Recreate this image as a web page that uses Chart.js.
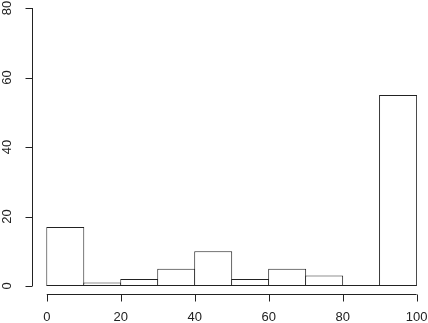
<!DOCTYPE html>
<html><head><meta charset="utf-8">
<script src="https://cdn.jsdelivr.net/npm/chart.js@4"></script>
<style>html,body{margin:0;padding:0;background:#fff}#wrap{width:428px;height:323px}</style>
</head><body><div id="wrap"><canvas id="c" width="428" height="323"></canvas></div>
<script>
const binStarts = [0, 10, 20, 30, 40, 50, 60, 70, 80, 90];
const binWidth = 10;
const counts = [17, 1, 2, 5, 10, 2, 5, 3, 0, 55];
const xTicks = [0, 20, 40, 60, 80, 100];
const yTicks = [0, 20, 40, 60, 80];

const ink = '#222';
const font = '13px "Liberation Sans", Arial, sans-serif';

const rAxes = {
  id: 'rAxes',
  afterDatasetsDraw(chart) {
    const ctx = chart.ctx, xs = chart.scales.x, ys = chart.scales.y;
    ctx.save();
    ctx.strokeStyle = ink; ctx.lineWidth = 1; ctx.fillStyle = ink; ctx.font = font;
    // baseline of the histogram
    const yb = Math.round(ys.getPixelForValue(0)) - 0.5;
    ctx.beginPath();
    ctx.moveTo(xs.getPixelForValue(binStarts[0]), yb);
    ctx.lineTo(xs.getPixelForValue(binStarts[binStarts.length - 1] + binWidth), yb);
    ctx.stroke();
    // x axis
    const xa = Math.round(ys.bottom) + 0.5;
    ctx.beginPath();
    ctx.moveTo(xs.getPixelForValue(xTicks[0]), xa);
    ctx.lineTo(xs.getPixelForValue(xTicks[xTicks.length - 1]), xa);
    xTicks.forEach(t => { const p = Math.round(xs.getPixelForValue(t)) + 0.5; ctx.moveTo(p, xa); ctx.lineTo(p, xa + 7); });
    ctx.stroke();
    ctx.textAlign = 'center'; ctx.textBaseline = 'middle';
    xTicks.forEach(t => ctx.fillText(String(t), xs.getPixelForValue(t), xa + 23));
    // y axis
    const ya = Math.round(xs.left) + 0.5;
    ctx.beginPath();
    ctx.moveTo(ya, ys.getPixelForValue(yTicks[0]));
    ctx.lineTo(ya, ys.getPixelForValue(yTicks[yTicks.length - 1]));
    yTicks.forEach(t => { const p = Math.round(ys.getPixelForValue(t)) + 0.5; ctx.moveTo(ya, p); ctx.lineTo(ya - 7, p); });
    ctx.stroke();
    yTicks.forEach(t => {
      ctx.save();
      ctx.translate(ya - 25, ys.getPixelForValue(t));
      ctx.rotate(-Math.PI / 2);
      ctx.fillText(String(t), 0, 0);
      ctx.restore();
    });
    ctx.restore();
  }
};

const bg = {
  id: 'bg',
  beforeDraw(chart) { const c = chart.ctx; c.save(); c.fillStyle = '#fff'; c.fillRect(0, 0, chart.width, chart.height); c.restore(); }
};

new Chart(document.getElementById('c'), {
  type: 'bar',
  data: {
    datasets: [{
      data: binStarts.map((s, i) => ({ x: s + binWidth / 2, y: counts[i] })),
      backgroundColor: '#fff',
      borderColor: ink,
      borderWidth: 1,
      borderSkipped: 'start',
      barPercentage: 1.027,
      categoryPercentage: 1
    }]
  },
  options: {
    responsive: false,
    animation: false,
    events: [],
    layout: { padding: { left: 32, right: 4, top: 8, bottom: 29 } },
    plugins: { legend: { display: false }, tooltip: { enabled: false } },
    scales: {
      x: { type: 'linear', min: -4, max: 102, offset: false, display: false, grid: { offset: false } },
      y: { min: -2.3, max: 80, display: false }
    }
  },
  plugins: [bg, rAxes]
});
</script></body></html>
